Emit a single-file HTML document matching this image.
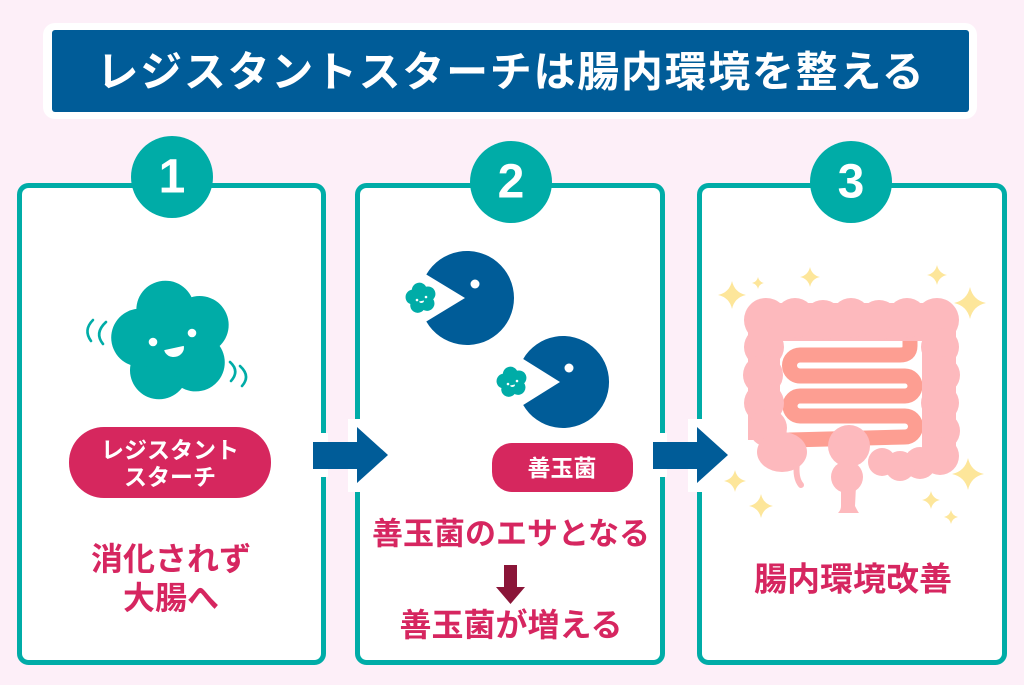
<!DOCTYPE html>
<html><head><meta charset="utf-8"><style>
html,body{margin:0;padding:0;background:#fdeff8;}
svg{display:block;}
text{font-family:"Liberation Sans","Noto Sans CJK JP",sans-serif;font-weight:bold;}
</style></head><body>
<svg width="1024" height="685" viewBox="0 0 1024 685" xmlns="http://www.w3.org/2000/svg">
<rect width="1024" height="685" fill="#fdeff8"/>
<!-- title -->
<rect x="43" y="23" width="934" height="96" rx="12" fill="#fff"/>
<rect x="52" y="30" width="917" height="82" rx="3" fill="#005c98"/>
<text x="511" y="72" fill="#fff" font-size="42" text-anchor="middle" dominant-baseline="central" letter-spacing="1.7">レジスタントスターチは腸内環境を整える</text>

<!-- panels -->
<rect x="19.5" y="185.5" width="304" height="477" rx="9" fill="#fff" stroke="#00aca7" stroke-width="5"/>
<rect x="357.5" y="185.5" width="305" height="477" rx="9" fill="#fff" stroke="#00aca7" stroke-width="5"/>
<rect x="699.5" y="185.5" width="305" height="477" rx="9" fill="#fff" stroke="#00aca7" stroke-width="5"/>

<!-- badges -->
<circle cx="172" cy="177" r="41" fill="#00aca7"/>
<circle cx="511" cy="182" r="41" fill="#00aca7"/>
<circle cx="851" cy="182" r="41" fill="#00aca7"/>
<text x="172" y="177" fill="#fff" font-size="48" text-anchor="middle" dominant-baseline="central">1</text>
<text x="511" y="182" fill="#fff" font-size="48" text-anchor="middle" dominant-baseline="central">2</text>
<text x="851" y="182" fill="#fff" font-size="48" text-anchor="middle" dominant-baseline="central">3</text>

<!-- arrows between panels -->
<rect x="319" y="433" width="9" height="44" fill="#fff"/>
<rect x="348" y="419" width="15" height="73" fill="#fff"/>
<polygon points="313,442 357,442 357,427 388,455 357,483 357,469 313,469" fill="#005c98"/>
<rect x="658" y="433" width="9" height="44" fill="#fff"/>
<rect x="688" y="419" width="15" height="73" fill="#fff"/>
<polygon points="653,442 697,442 697,427 728,455 697,483 697,469 653,469" fill="#005c98"/>

<!-- panel 1 flower -->
<g transform="translate(172,341) rotate(-12)" fill="#00aca7">
<circle cx="0" cy="-32" r="29"/>
<circle cx="30.4" cy="-9.9" r="29"/>
<circle cx="18.8" cy="25.9" r="29"/>
<circle cx="-18.8" cy="25.9" r="29"/>
<circle cx="-30.4" cy="-9.9" r="29"/>
<circle cx="0" cy="0" r="36"/>
</g>
<circle cx="153" cy="342" r="4.3" fill="#fff"/>
<circle cx="192" cy="333" r="4.3" fill="#fff"/>
<path d="M -10 0 L 10 0 A 10 9 0 0 1 -10 0 Z" transform="translate(174,348) rotate(-12)" fill="#fff"/>
<g fill="none" stroke="#00aca7" stroke-width="2.6" stroke-linecap="round">
<path d="M 93 320 Q 83 330 91 341"/>
<path d="M 106 322 Q 94 333 103 344"/>
<path d="M 230 362 Q 240 371 231 381"/>
<path d="M 240 366 Q 251 376 242 386"/>
</g>

<!-- pill 1 -->
<rect x="69" y="427" width="202" height="71" rx="35" fill="#d6275e"/>
<text x="170" y="450" fill="#fff" font-size="23" text-anchor="middle" dominant-baseline="central">レジスタント</text>
<text x="170" y="477" fill="#fff" font-size="23" text-anchor="middle" dominant-baseline="central">スターチ</text>
<text x="171" y="559" fill="#d62660" font-size="32" text-anchor="middle" dominant-baseline="central">消化されず</text>
<text x="171" y="598" fill="#d62660" font-size="32" text-anchor="middle" dominant-baseline="central">大腸へ</text>

<!-- panel 2 pacmen -->
<path d="M 465 298 L 426.3 274.5 A 47 47 0 1 1 426.3 321.5 Z" fill="#005c98"/>
<circle cx="475" cy="284" r="4.5" fill="#fff"/>
<path d="M 560 382 L 523.2 359 A 46 46 0 1 1 523.2 405 Z" fill="#005c98"/>
<circle cx="569" cy="368" r="4.5" fill="#fff"/>
<!-- small flowers -->
<g transform="translate(421,298) rotate(-12)" fill="#00aca7">
<circle cx="0" cy="-8" r="7.5"/><circle cx="7.6" cy="-2.5" r="7.5"/><circle cx="4.7" cy="6.5" r="7.5"/><circle cx="-4.7" cy="6.5" r="7.5"/><circle cx="-7.6" cy="-2.5" r="7.5"/><circle cx="0" cy="0" r="9"/>
</g>
<circle cx="417" cy="300" r="1.3" fill="#fff"/><circle cx="426" cy="297" r="1.3" fill="#fff"/>
<path d="M 419 301.5 L 424 300.5 A 2.6 2.4 0 0 1 419 301.5 Z" fill="#fff"/>
<g transform="translate(512,382) rotate(-12)" fill="#00aca7">
<circle cx="0" cy="-8" r="7.5"/><circle cx="7.6" cy="-2.5" r="7.5"/><circle cx="4.7" cy="6.5" r="7.5"/><circle cx="-4.7" cy="6.5" r="7.5"/><circle cx="-7.6" cy="-2.5" r="7.5"/><circle cx="0" cy="0" r="9"/>
</g>
<circle cx="508" cy="384" r="1.3" fill="#fff"/><circle cx="517" cy="381" r="1.3" fill="#fff"/>
<path d="M 510 385.5 L 515 384.5 A 2.6 2.4 0 0 1 510 385.5 Z" fill="#fff"/>

<!-- pill 2 -->
<rect x="492" y="443" width="141" height="49" rx="20" fill="#d6275e"/>
<text x="562" y="468" fill="#fff" font-size="23" text-anchor="middle" dominant-baseline="central">善玉菌</text>
<text x="511" y="534" fill="#d62660" font-size="31" text-anchor="middle" dominant-baseline="central">善玉菌のエサとなる</text>
<polygon points="504,565 517,565 517,587 525,587 510.5,604 496,587 504,587" fill="#8a1538"/>
<text x="511" y="625" fill="#d62660" font-size="32" text-anchor="middle" dominant-baseline="central">善玉菌が増える</text>

<!-- panel 3 intestine -->
<path d="M 910 332 L 910 346 Q 910 355 900 355 L 800 355 A 10.5 10.5 0 0 0 800 376 L 905 376 A 10 10 0 0 1 905 396 L 800 396 A 10 10 0 0 0 800 416 L 905 416 A 10.5 10.5 0 0 1 905 437 L 790 440" fill="none" stroke="#fd9e92" stroke-width="15" stroke-linecap="round" stroke-linejoin="round"/>
<g fill="#fdb9bd">
<!-- top band -->
<rect x="762" y="303" width="180" height="38"/>
<circle cx="766" cy="320" r="22"/><circle cx="795" cy="318" r="20"/><circle cx="823" cy="320" r="20"/>
<circle cx="851" cy="318" r="20"/><circle cx="879" cy="320" r="20"/><circle cx="907" cy="318" r="20"/><circle cx="937" cy="320" r="22"/>
<!-- left band -->
<rect x="748" y="320" width="32" height="120"/>
<circle cx="764" cy="347" r="20"/><circle cx="763" cy="375" r="20"/><circle cx="764" cy="403" r="20"/><circle cx="768" cy="428" r="19"/>
<ellipse cx="782" cy="452" rx="25" ry="20"/>
<!-- right band -->
<rect x="922" y="320" width="34" height="140"/>
<circle cx="940" cy="347" r="19"/><circle cx="941" cy="375" r="19"/><circle cx="940" cy="403" r="19"/><circle cx="941" cy="431" r="19"/><circle cx="940" cy="456" r="19"/>
<!-- sigmoid -->
<circle cx="920" cy="463" r="16"/><circle cx="900" cy="466" r="15"/><circle cx="882" cy="462" r="14"/>
<!-- rectum -->
<ellipse cx="849" cy="446" rx="21" ry="21"/>
<ellipse cx="847" cy="477" rx="16" ry="16"/>
<path d="M 841 486 L 856 486 L 855 506 Q 858 512 859 513 L 838 513 Q 841 510 841 506 Z"/>
</g>
<path d="M 797 462 Q 795 478 801 485" fill="none" stroke="#fdb9bd" stroke-width="6" stroke-linecap="round"/>

<!-- sparkles -->
<g fill="#fde69a">
<path d="M 0 -1 Q 0.18 -0.18 1 0 Q 0.18 0.18 0 1 Q -0.18 0.18 -1 0 Q -0.18 -0.18 0 -1 Z" transform="translate(732,295) scale(14)"/>
<path d="M 0 -1 Q 0.18 -0.18 1 0 Q 0.18 0.18 0 1 Q -0.18 0.18 -1 0 Q -0.18 -0.18 0 -1 Z" transform="translate(758,283) scale(6)"/>
<path d="M 0 -1 Q 0.18 -0.18 1 0 Q 0.18 0.18 0 1 Q -0.18 0.18 -1 0 Q -0.18 -0.18 0 -1 Z" transform="translate(810,277) scale(10)"/>
<path d="M 0 -1 Q 0.18 -0.18 1 0 Q 0.18 0.18 0 1 Q -0.18 0.18 -1 0 Q -0.18 -0.18 0 -1 Z" transform="translate(937,275) scale(10)"/>
<path d="M 0 -1 Q 0.18 -0.18 1 0 Q 0.18 0.18 0 1 Q -0.18 0.18 -1 0 Q -0.18 -0.18 0 -1 Z" transform="translate(970,303) scale(16)"/>
<path d="M 0 -1 Q 0.18 -0.18 1 0 Q 0.18 0.18 0 1 Q -0.18 0.18 -1 0 Q -0.18 -0.18 0 -1 Z" transform="translate(968,474) scale(16)"/>
<path d="M 0 -1 Q 0.18 -0.18 1 0 Q 0.18 0.18 0 1 Q -0.18 0.18 -1 0 Q -0.18 -0.18 0 -1 Z" transform="translate(931,500) scale(9)"/>
<path d="M 0 -1 Q 0.18 -0.18 1 0 Q 0.18 0.18 0 1 Q -0.18 0.18 -1 0 Q -0.18 -0.18 0 -1 Z" transform="translate(951,517) scale(7)"/>
<path d="M 0 -1 Q 0.18 -0.18 1 0 Q 0.18 0.18 0 1 Q -0.18 0.18 -1 0 Q -0.18 -0.18 0 -1 Z" transform="translate(735,481) scale(11)"/>
<path d="M 0 -1 Q 0.18 -0.18 1 0 Q 0.18 0.18 0 1 Q -0.18 0.18 -1 0 Q -0.18 -0.18 0 -1 Z" transform="translate(761,506) scale(12)"/>
</g>

<text x="853" y="579" fill="#d62660" font-size="33" text-anchor="middle" dominant-baseline="central">腸内環境改善</text>
</svg>
</body></html>
